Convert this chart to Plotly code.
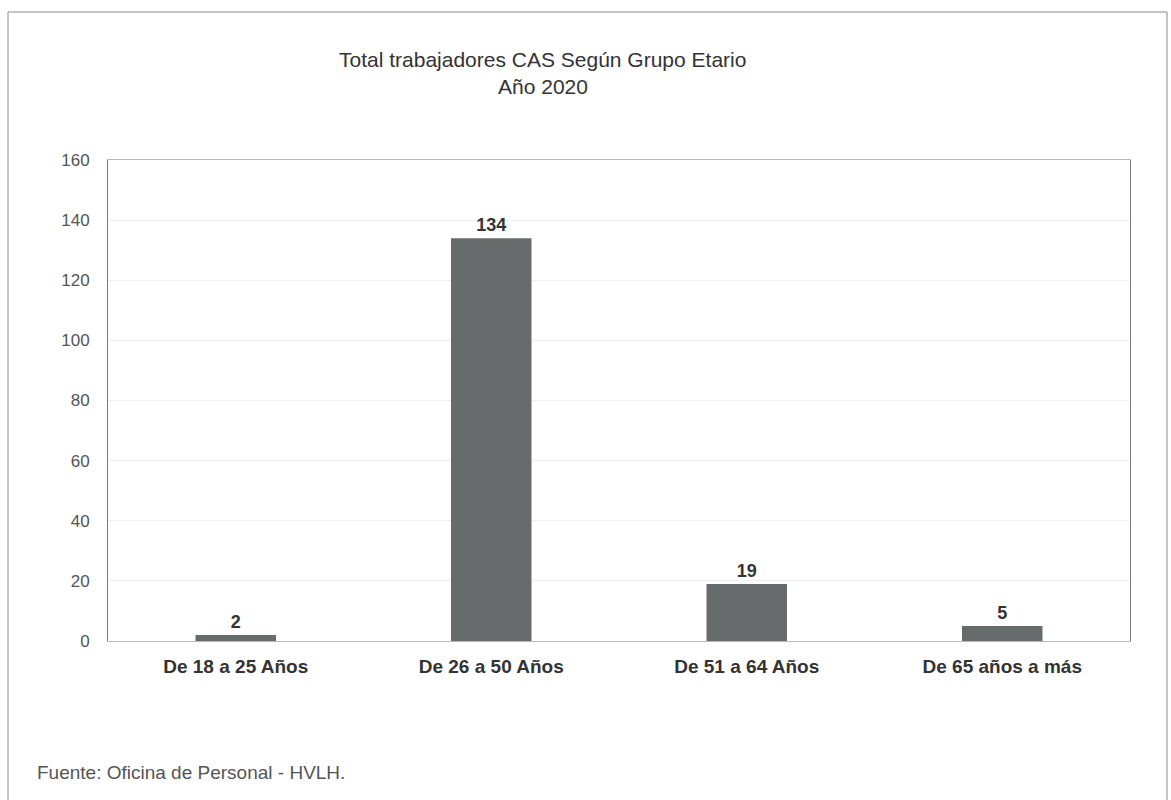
import plotly.graph_objects as go

# Workers by age group, 2020
grupos = ["De 18 a 25 Años", "De 26 a 50 Años", "De 51 a 64 Años", "De 65 años a más"]
trabajadores = [2, 134, 19, 5]
y_ticks = [0, 20, 40, 60, 80, 100, 120, 140, 160]

fig = go.Figure(
    go.Bar(
        x=grupos,
        y=trabajadores,
        marker=dict(color="#686b6b", line=dict(width=0)),
        text=[str(v) for v in trabajadores],
        textposition="outside",
        textfont=dict(family="Liberation Sans, Arial, sans-serif", size=18, color="#333333", weight="bold"),
        cliponaxis=False,
        width=0.315,
    )
)

fig.update_layout(
    width=1171,
    height=800,
    margin=dict(l=108, r=41, t=160, b=159),
    paper_bgcolor="white",
    plot_bgcolor="white",
    showlegend=False,
    font=dict(family="Liberation Sans, Arial, sans-serif", color="#444444"),
)

fig.update_xaxes(
    showline=True,
    linecolor="#b8b8b8",
    linewidth=1,
    mirror=True,
    showgrid=False,
    ticks="",
    ticklabelstandoff=8,
    tickfont=dict(size=19, color="#333333", weight="bold"),
)

fig.update_yaxes(
    range=[0, 160],
    tickvals=y_ticks,
    showline=True,
    linecolor="#777777",
    linewidth=1,
    mirror=True,
    showgrid=True,
    gridcolor="#efefef",
    zeroline=False,
    ticks="",
    ticklabelstandoff=14,
    tickfont=dict(size=17, color="#555555"),
)

# Title lines
fig.add_annotation(
    text="Total trabajadores CAS Según Grupo Etario",
    xref="paper", yref="paper", x=0.4256, y=(641 - 59) / 481,
    xanchor="center", yanchor="middle", showarrow=False, borderpad=0,
    font=dict(size=21, color="#333333"),
)
fig.add_annotation(
    text="Año 2020",
    xref="paper", yref="paper", x=0.4256, y=(641 - 86) / 481,
    xanchor="center", yanchor="middle", showarrow=False, borderpad=0,
    font=dict(size=21, color="#333333"),
)

# Source note
fig.add_annotation(
    text="Fuente: Oficina de Personal - HVLH.",
    xref="paper", yref="paper", x=(35 - 108) / 1022, y=(641 - 772) / 481,
    xanchor="left", yanchor="middle", showarrow=False,
    font=dict(size=19, color="#555555"),
)

# Outer frame around the whole chart
fig.add_shape(
    type="rect",
    xref="paper", yref="paper",
    x0=(8 - 108) / 1022, x1=(1167 - 108) / 1022,
    y0=-0.5, y1=(641 - 12) / 481,
    line=dict(color="#8a8a8a", width=1),
    fillcolor="rgba(0,0,0,0)",
    layer="below",
)

fig.write_html("out.html")
